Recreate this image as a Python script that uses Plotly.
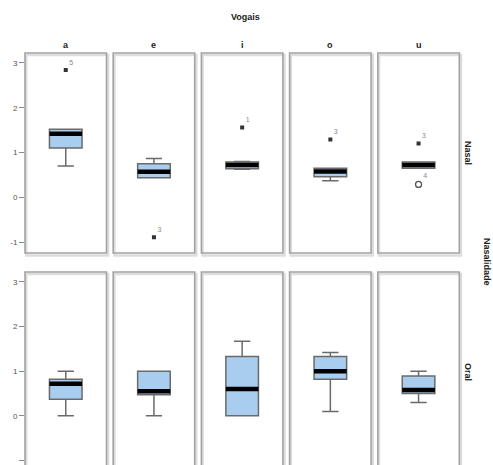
import plotly.graph_objects as go

# Vowel categories and nasality groups
vogais = ["a", "e", "i", "o", "u"]
grupos = ["Nasal", "Oral"]

# Box statistics per group (order follows vogais)
nasal_lower = [0.70, 0.44, 0.63, 0.37, 0.65]
nasal_q1 = [1.10, 0.44, 0.64, 0.46, 0.65]
nasal_median = [1.42, 0.57, 0.72, 0.58, 0.72]
nasal_q3 = [1.52, 0.75, 0.79, 0.65, 0.79]
nasal_upper = [1.52, 0.87, 0.80, 0.65, 0.79]

oral_lower = [0.00, 0.00, 0.00, 0.10, 0.30]
oral_q1 = [0.37, 0.47, 0.00, 0.82, 0.50]
oral_median = [0.72, 0.55, 0.60, 1.00, 0.58]
oral_q3 = [0.82, 1.00, 1.33, 1.33, 0.89]
oral_upper = [1.00, 1.00, 1.67, 1.42, 1.00]

# Flagged cases in the Nasal group: vowel index, value, case label
extremos_vogal = [0, 1, 2, 3, 4]
extremos_valor = [2.84, -0.89, 1.56, 1.29, 1.20]
extremos_rotulo = ["5", "3", "1", "3", "3"]
atipicos_vogal = [4]
atipicos_valor = [0.29]
atipicos_rotulo = ["4"]

stats = {
    "Nasal": (nasal_lower, nasal_q1, nasal_median, nasal_q3, nasal_upper),
    "Oral": (oral_lower, oral_q1, oral_median, oral_q3, oral_upper),
}

W, H = 493, 465
col_left = [25, 113.2, 201.4, 289.6, 377.8]
col_w = 81.5
row_px = [(53, 253), (272, 465)]
row_ranges = [[-1.24, 3.22], [-1.10, 3.22]]

BOX_FILL = "#a9cdee"
BOX_LINE = "#6a6a6a"
FONT = "Liberation Sans, Arial, sans-serif"
LABEL = dict(size=9, color="#222222")

fig = go.Figure()
layout = dict(
    width=W, height=H, margin=dict(l=0, r=0, t=0, b=0),
    paper_bgcolor="white", plot_bgcolor="white", showlegend=False,
    font=dict(family=FONT),
)
shapes = []
annotations = []


def label(x_px, y_px, text, angle=0):
    annotations.append(dict(
        x=x_px / W, y=1 - y_px / H, xref="paper", yref="paper",
        xanchor="center", yanchor="middle", text=f"<b>{text}</b>",
        showarrow=False, textangle=angle, font=LABEL,
    ))


for r, grupo in enumerate(grupos):
    lower, q1, med, q3, upper = stats[grupo]
    top_px, bot_px = row_px[r]
    for c, v in enumerate(vogais):
        k = r * 5 + c + 1
        xa = "x" if k == 1 else f"x{k}"
        ya = "y" if k == 1 else f"y{k}"
        xname = "xaxis" if k == 1 else f"xaxis{k}"
        yname = "yaxis" if k == 1 else f"yaxis{k}"
        x0 = col_left[c] / W
        x1 = (col_left[c] + col_w) / W
        layout[xname] = dict(
            domain=[x0, x1], range=[-0.5, 0.5], anchor=ya,
            showgrid=False, zeroline=False, showticklabels=False, ticks="",
            fixedrange=True,
        )
        layout[yname] = dict(
            domain=[1 - bot_px / H, 1 - top_px / H], range=row_ranges[r],
            anchor=xa, showgrid=False, zeroline=False, fixedrange=True,
            tickvals=[-1, 0, 1, 2, 3], ticktext=["-1", "0", "1", "2", "3"],
            showticklabels=(c == 0), ticks="outside" if c == 0 else "",
            ticklen=5, tickwidth=1, tickcolor="#888888",
            tickfont=dict(size=8, color="#555555", family=FONT),
        )
        fig.add_trace(go.Box(
            x=[0], q1=[q1[c]], median=[med[c]], q3=[q3[c]],
            lowerfence=[lower[c]], upperfence=[upper[c]],
            width=0.4, whiskerwidth=0.5,
            fillcolor=BOX_FILL, line=dict(color=BOX_LINE, width=1.5),
            boxpoints=False, xaxis=xa, yaxis=ya, hoverinfo="skip",
        ))
        # Thick median bar
        fig.add_trace(go.Scatter(
            x=[-0.2, 0.2], y=[med[c], med[c]], mode="lines",
            line=dict(color="black", width=4.5), xaxis=xa, yaxis=ya,
            hoverinfo="skip",
        ))
        # Panel frame: soft shadow then grey border
        shapes.append(dict(
            type="rect", xref=f"{xa} domain", yref=f"{ya} domain",
            x0=0.015, x1=1.02, y0=-0.012 if r == 0 else -0.2, y1=0.99,
            line=dict(color="#dddddd", width=2.5), layer="below",
        ))
        shapes.append(dict(
            type="rect", xref=f"{xa} domain", yref=f"{ya} domain",
            x0=0, x1=1, y0=0 if r == 0 else -0.2, y1=1,
            line=dict(color="#a3a3a3", width=1.6), layer="below",
        ))
        if r == 0:
            label(col_left[c] + col_w / 2, 45, v)

# Flagged cases (Nasal row)
for i, c in enumerate(extremos_vogal):
    k = c + 1
    xa = "x" if k == 1 else f"x{k}"
    ya = "y" if k == 1 else f"y{k}"
    fig.add_trace(go.Scatter(
        x=[0], y=[extremos_valor[i]], mode="markers+text",
        marker=dict(symbol="square", size=4, color="#333333"),
        text=[extremos_rotulo[i]], textposition="top right",
        textfont=dict(size=7, color="#888888"),
        xaxis=xa, yaxis=ya, hoverinfo="skip",
    ))
for i, c in enumerate(atipicos_vogal):
    k = c + 1
    xa = "x" if k == 1 else f"x{k}"
    ya = "y" if k == 1 else f"y{k}"
    fig.add_trace(go.Scatter(
        x=[0], y=[atipicos_valor[i]], mode="markers+text",
        marker=dict(symbol="circle-open", size=6, color="#555555",
                    line=dict(width=1.3)),
        text=[atipicos_rotulo[i]], textposition="top right",
        textfont=dict(size=7, color="#888888"),
        xaxis=xa, yaxis=ya, hoverinfo="skip",
    ))

# Titles and strip labels
label(245, 17, "Vogais")
label(468, 153, "Nasal", 90)
label(468, 372, "Oral", 90)
label(487, 262, "Nasalidade", 90)

layout["shapes"] = shapes
layout["annotations"] = annotations
fig.update_layout(**layout)
fig.write_html("out.html")
